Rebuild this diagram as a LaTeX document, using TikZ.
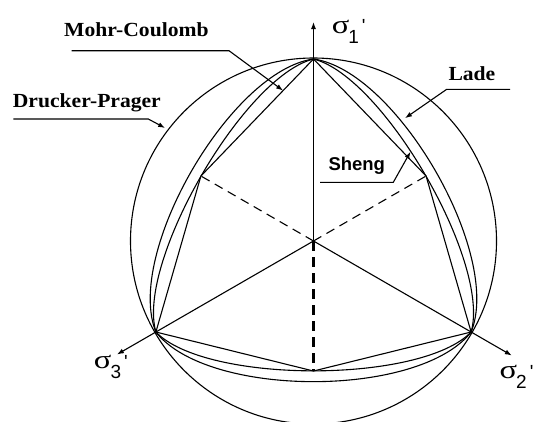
\documentclass[tikz,border=0pt]{standalone}
\usepackage{fontspec}
\usetikzlibrary{arrows.meta}
\newfontfamily\labfont[FakeStretch=1.08]{Liberation Serif}
\newfontfamily\shengfont{Liberation Sans}
\newfontfamily\sigfont[FakeStretch=1.25]{Liberation Serif}
\newfontfamily\subfont{Liberation Sans}
\newcommand\axlab[1]{{\sigfont\fontsize{26}{26}\selectfont σ}\kern-1pt\raisebox{-10pt}{\subfont\fontsize{19}{19}\selectfont #1}\kern3pt{\subfont\fontsize{19}{19}\selectfont '}}
\tikzset{
  envline/.style={draw=black, line width=1.1pt},
  axisline/.style={draw=black, line width=1.1pt, -{Latex[length=7pt,width=5pt]}},
  leader/.style={draw=black, line width=1.1pt, -{Latex[length=7pt,width=5pt]}},
  dashray/.style={draw=black, line width=1.1pt, dash pattern=on 9pt off 6pt},
  thickdash/.style={draw=black, line width=2.8pt, dash pattern=on 10pt off 6pt},
  lbl/.style={inner sep=0pt, anchor=base west, font=\labfont\bfseries\fontsize{20}{22}\selectfont},
  axlbl/.style={inner sep=0pt, anchor=base west}
}
\begin{document}
\begin{tikzpicture}[x=1pt,y=1pt]
  \useasboundingbox (-313.5,-180) rectangle (220.5,241);
  \coordinate (O) at (0,0);
  % compression vertices
  \coordinate (s1) at (90:182);
  \coordinate (s2) at (-30:182);
  \coordinate (s3) at (210:182);
  % extension vertices
  \coordinate (e12) at (30:130);
  \coordinate (e23) at (270:130);
  \coordinate (e31) at (150:130);

  % Drucker-Prager
  \draw[envline] (O) circle[radius=183];
  % Mohr-Coulomb
  \draw[envline] (s1) -- (e12) -- (s2) -- (e23) -- (s3) -- (e31) -- cycle;
  % Sheng and Lade
  \foreach \a in {0,120,240}{
    \begin{scope}[rotate=\a]
      \draw[envline] (90:182) .. controls +(-14:72) and +(74:72) .. (-30:182);
      \draw[envline] (90:182) .. controls +(-8:84) and +(68:84) .. (-30:182);
    \end{scope}
  }

  % axes
  \coordinate (a1) at (90:219);
  \coordinate (a2) at (-30:229);
  \coordinate (a3) at (210:227);
  \draw[axisline] (O) -- (a1);
  \draw[axisline] (O) -- (a2);
  \draw[axisline] (O) -- (a3);
  \draw[dashray] (O) -- (e12);
  \draw[dashray] (O) -- (e31);
  \draw[thickdash] (O) -- (e23);

  \node[axlbl] (l1) at (18.2,208) {\axlab{1}};
  \node[axlbl] (l2) at (186,-137) {\axlab{2}};
  \node[axlbl] (l3) at (-219.7,-127) {\axlab{3}};

  % labels and leaders
  \node[lbl] (mc) at (-249.5,204.3) {Mohr-Coulomb};
  \node[lbl] (dp) at (-300.8,133.3) {Drucker-Prager};
  \node[lbl] (lade) at (134.8,161) {Lade};
  \node[inner sep=0pt, anchor=base west, font=\shengfont\bfseries\fontsize{18.5}{22}\selectfont] (sheng) at (14.8,71) {Sheng};

  \path (s1) -- (e31) coordinate[pos=0.27] (mctip);
  \coordinate (mcstart) at (-241.9,190.3);
  \coordinate (mcbend) at (-84.5,190.3);
  \draw[leader] (mcstart) -- (mcbend) -- (mctip);

  \coordinate (dpstart) at (-300.2,122);
  \coordinate (dpbend) at (-165.2,122);
  \coordinate (dptip) at (142.7:186.5);
  \draw[leader] (dpstart) -- (dpbend) -- (dptip);

  \coordinate (ladestart) at (196.5,151.7);
  \coordinate (ladebend) at (133.2,151.7);
  \coordinate (ladetip) at (91.5,122.8);
  \draw[leader] (ladestart) -- (ladebend) -- (ladetip);

  \coordinate (shengstart) at (6.5,58.7);
  \coordinate (shengbend) at (79.8,58.7);
  \coordinate (shengtip) at (97,89.3);
  \draw[leader] (shengstart) -- (shengbend) -- (shengtip);
\end{tikzpicture}
\end{document}
